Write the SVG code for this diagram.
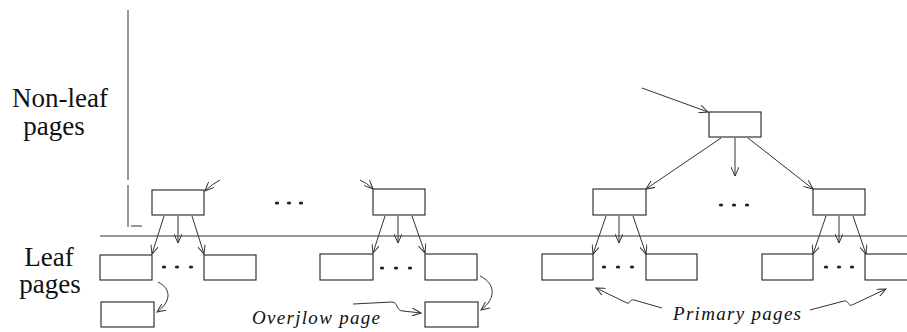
<svg xmlns="http://www.w3.org/2000/svg" width="907" height="332" viewBox="0 0 907 332">
<defs>
<style>
.box{fill:#fff;stroke:#222;stroke-width:1.1}
.ln{fill:none;stroke:#333;stroke-width:1}
.ar{fill:none;stroke:#333;stroke-width:1;marker-end:url(#ah)}
.dot{fill:#222}
.lbl{font-family:"Liberation Serif","Times New Roman",serif;font-size:27px;fill:#111;text-anchor:middle}
.it{font-family:"Liberation Serif","Times New Roman",serif;font-size:19px;font-style:italic;fill:#111;letter-spacing:1.3px}
</style>
<marker id="ah" viewBox="0 0 10 8" refX="9" refY="4" markerWidth="10" markerHeight="8" markerUnits="userSpaceOnUse" orient="auto">
<path d="M0,0 L9,4 L0,8" fill="none" stroke="#333" stroke-width="1"/>
</marker>
</defs>
<rect width="907" height="332" fill="#fff"/>

<g id="labels">
<text class="lbl" x="60" y="107">Non-leaf</text>
<text class="lbl" x="54" y="135">pages</text>
<text class="lbl" x="49" y="266">Leaf</text>
<text class="lbl" x="50" y="293">pages</text>
<text class="it" x="252" y="324">Overjlow page</text>
<text class="it" x="673" y="320">Primary pages</text>
</g>

<g id="rules">
<line class="ln" x1="128" y1="10" x2="128" y2="180"/>
<line class="ln" x1="128" y1="185" x2="128" y2="227"/>
<line class="ln" x1="131" y1="226" x2="142" y2="226"/>
<line class="ln" x1="100" y1="236" x2="907" y2="236"/>
</g>

<g id="connectors">
<path class="ar" d="M220,180 Q212,184 205,191"/>
<line class="ar" x1="164" y1="216" x2="152" y2="254"/>
<line class="ar" x1="178" y1="216" x2="178" y2="243"/>
<line class="ar" x1="192" y1="216" x2="204" y2="254"/>
<path class="ar" d="M158,282 C172,289 171,302 157,312"/>

<path class="ar" d="M360,180 Q367,183 373,189"/>
<line class="ar" x1="385" y1="216" x2="373" y2="253"/>
<line class="ar" x1="398" y1="216" x2="398" y2="243"/>
<line class="ar" x1="412" y1="216" x2="425" y2="253"/>
<path class="ar" d="M480,276 C495,283 497,298 481,310"/>
<path class="ar" d="M353,304 L392,302 C398,302 396,311 403,311 L421,313"/>

<line class="ar" x1="642" y1="88" x2="708" y2="112"/>
<line class="ar" x1="721" y1="138" x2="646" y2="189"/>
<line class="ar" x1="735" y1="138" x2="735" y2="176"/>
<line class="ar" x1="748" y1="138" x2="813" y2="189"/>

<line class="ar" x1="606" y1="216" x2="593" y2="254"/>
<line class="ar" x1="619" y1="216" x2="619" y2="243"/>
<line class="ar" x1="633" y1="216" x2="646" y2="254"/>

<line class="ar" x1="826" y1="216" x2="813" y2="254"/>
<line class="ar" x1="839" y1="216" x2="839" y2="243"/>
<line class="ar" x1="853" y1="216" x2="866" y2="254"/>

<path class="ar" d="M662,308 L634,300 C629,299 631,304 627,303 L596,288"/>
<path class="ar" d="M810,310 L844,301 C849,300 848,307 852,305 L886,289"/>
</g>

<g id="n1"><rect class="box" x="152" y="190" width="52" height="25"/></g>
<g id="l1a"><rect class="box" x="100" y="255" width="52" height="25"/></g>
<g id="l1b"><rect class="box" x="204" y="255" width="52" height="25"/></g>
<g id="o1"><rect class="box" x="101" y="302" width="53" height="25"/></g>

<g id="n2"><rect class="box" x="373" y="189" width="52" height="26"/></g>
<g id="l2a"><rect class="box" x="320" y="254" width="53" height="26"/></g>
<g id="l2b"><rect class="box" x="425" y="254" width="52" height="26"/></g>
<g id="o2"><rect class="box" x="425" y="302" width="53" height="25"/></g>

<g id="root"><rect class="box" x="709" y="112" width="52" height="25"/></g>
<g id="n3"><rect class="box" x="593" y="189" width="53" height="26"/></g>
<g id="n4"><rect class="box" x="813" y="189" width="52" height="26"/></g>
<g id="l3a"><rect class="box" x="542" y="254" width="51" height="26"/></g>
<g id="l3b"><rect class="box" x="646" y="254" width="51" height="26"/></g>
<g id="l4a"><rect class="box" x="762" y="254" width="51" height="26"/></g>
<g id="l4b"><rect class="box" x="865" y="254" width="52" height="26"/></g>

<g id="ellipses">
<ellipse class="dot" cx="277" cy="203" rx="2.2" ry="1.6"/><ellipse class="dot" cx="289" cy="203" rx="2.2" ry="1.6"/><ellipse class="dot" cx="301" cy="203" rx="2.2" ry="1.6"/>
<ellipse class="dot" cx="164" cy="267" rx="2.2" ry="1.6"/><ellipse class="dot" cx="177" cy="267" rx="2.2" ry="1.6"/><ellipse class="dot" cx="191" cy="267" rx="2.2" ry="1.6"/>
<ellipse class="dot" cx="382" cy="268" rx="2.2" ry="1.6"/><ellipse class="dot" cx="396" cy="268" rx="2.2" ry="1.6"/><ellipse class="dot" cx="410" cy="268" rx="2.2" ry="1.6"/>
<ellipse class="dot" cx="721" cy="205" rx="2.2" ry="1.6"/><ellipse class="dot" cx="734" cy="205" rx="2.2" ry="1.6"/><ellipse class="dot" cx="747" cy="205" rx="2.2" ry="1.6"/>
<ellipse class="dot" cx="604" cy="267" rx="2.2" ry="1.6"/><ellipse class="dot" cx="618" cy="267" rx="2.2" ry="1.6"/><ellipse class="dot" cx="632" cy="267" rx="2.2" ry="1.6"/>
<ellipse class="dot" cx="826" cy="267" rx="2.2" ry="1.6"/><ellipse class="dot" cx="839" cy="267" rx="2.2" ry="1.6"/><ellipse class="dot" cx="852" cy="267" rx="2.2" ry="1.6"/>
</g>
</svg>
